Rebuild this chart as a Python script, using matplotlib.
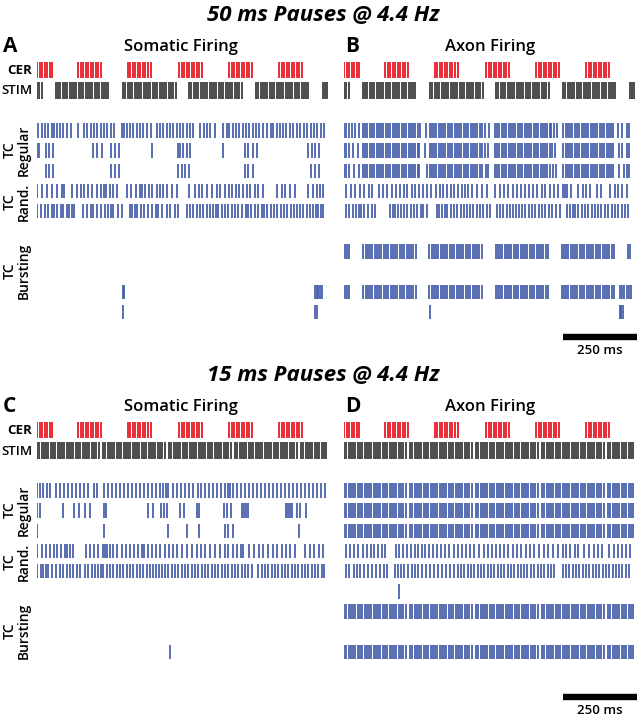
import numpy as np
import matplotlib.pyplot as plt

# spike times in ms (0 ms = left edge of each raster)
CER_ON = [0, 139, 307, 480, 649, 818]
CER_OFF = [52, 218, 390, 559, 728, 897]
CER_ISI = 8.5
STIM_ISI = 7.7

STIM_50 = [(0, 18), (64, 245), (291, 468), (514, 694), (740, 917), (966, 983)]
STIM_15 = [(0, 211), (223, 437), (446, 657), (669, 880), (892, 983)]

# ---- 50 ms pauses, somatic
A_REG1 = [4, 16, 27, 38, 50, 59, 69, 78, 89, 100, 114, 140, 159, 170, 181, 193, 204, 215,
          226, 238, 249, 260, 286, 294, 303, 314, 325, 337, 348, 359, 370, 384, 404, 416,
          427, 438, 449, 461, 474, 483, 494, 506, 517, 528, 551, 564, 575, 584, 601, 627,
          641, 650, 661, 672, 684, 695, 706, 717, 729, 740, 751, 765, 776, 789, 798, 810,
          821, 832, 843, 855, 866, 877, 889, 902, 913, 925, 936, 947, 958, 970]
A_REG2 = [1, 8, 29, 41, 55, 188, 203, 221, 250, 264, 278, 387, 475, 483, 494, 506, 517,
          629, 703, 714, 729, 742, 917, 928, 939, 954]
A_REG3 = [29, 41, 55, 250, 264, 278, 477, 489, 500, 514, 703, 714, 729, 926, 939, 954]
A_RAND1 = [1, 18, 35, 52, 69, 86, 91, 119, 134, 148, 160, 173, 187, 202, 215, 226, 233, 247,
           258, 271, 305, 316, 333, 348, 356, 365, 378, 390, 404, 416, 425, 438, 455, 472,
           515, 534, 547, 559, 573, 590, 607, 620, 635, 649, 658, 671, 684, 697, 711, 720,
           736, 748, 765, 810, 827, 838, 855, 872, 917, 931, 945, 956, 967]
A_RAND2 = [1, 12, 27, 38, 50, 57, 66, 80, 89, 100, 109, 117, 125, 157, 170, 181, 190, 204,
           215, 230, 241, 249, 258, 275, 286, 314, 322, 331, 339, 350, 361, 376, 387, 401,
           410, 421, 438, 449, 466, 477, 506, 516, 528, 539, 551, 562, 573, 584, 593, 604,
           613, 624, 635, 646, 658, 669, 680, 691, 706, 714, 722, 736, 748, 759, 767, 778,
           789, 801, 812, 823, 834, 846, 857, 868, 877, 888, 900, 911, 922, 933, 942, 950,
           958, 967]
A_BURST1 = [291, 295, 939, 945, 951, 957, 963]
A_BURST2 = [292, 939, 946]

# ---- 50 ms pauses, axon
B_REG_WIN = [(0, 18), (64, 250), (289, 471), (510, 696), (741, 916), (955, 966)]
B_REG1_X = [27, 38, 50, 256, 278, 478, 491, 700, 710, 720, 925, 938]
B_REG2_X = [30, 48, 255, 275, 477, 485, 702, 712, 928, 940]
B_REG3_X = [33, 50, 254, 280, 480, 488, 705, 715, 930, 945]
B_RAND1 = [7, 23, 37, 54, 69, 86, 93, 119, 133, 146, 161, 175, 189, 203, 214, 229, 240, 255,
           268, 279, 293, 311, 324, 336, 347, 360, 372, 386, 398, 409, 420, 431, 448, 465,
           484, 510, 527, 541, 555, 570, 583, 597, 611, 625, 640, 653, 668, 679, 696, 709,
           724, 739, 747, 755, 766, 792, 806, 818, 831, 854, 867, 899, 916, 927, 941, 955]
B_RAND2 = [7, 18, 29, 41, 50, 57, 69, 82, 93, 105, 155, 164, 173, 184, 191, 203, 214, 225,
           236, 248, 259, 268, 279, 313, 322, 331, 340, 349, 360, 372, 383, 394, 405, 417,
           426, 437, 448, 459, 471, 482, 493, 516, 527, 538, 550, 561, 572, 581, 590, 601,
           613, 624, 635, 646, 658, 669, 680, 691, 703, 716, 730, 755, 764, 773, 782, 792,
           803, 814, 825, 837, 848, 859, 870, 882, 893, 904, 916, 927, 938, 949, 961]
B_BURST1_WIN = [(3, 23), (65, 248), (288, 471), (512, 694), (735, 916), (958, 972)]
B_BURST2_WIN = [(3, 23), (65, 248), (288, 471), (512, 694), (735, 916), (932, 976)]
B_BURST3 = [291, 932, 937, 943]

# ---- 15 ms pauses, somatic
C_REG1 = [1, 10, 19, 33, 44, 64, 78, 91, 105, 118, 132, 145, 159, 172, 194, 202, 226, 240,
          253, 267, 280, 294, 307, 321, 334, 348, 361, 375, 389, 402, 416, 427, 435, 444,
          461, 474, 488, 501, 515, 528, 545, 553, 568, 581, 596, 609, 623, 636, 644, 652,
          663, 677, 690, 704, 717, 731, 744, 758, 771, 785, 798, 812, 825, 839, 852, 866,
          880, 893, 907, 920, 934, 947, 961, 974]
C_REG2 = [1, 10, 87, 125, 143, 162, 179, 226, 233, 376, 391, 418, 429, 438, 483, 498, 539,
          548, 632, 643, 654, 694, 700, 707, 714, 841, 848, 855, 862, 877, 889, 909]
C_REG3 = [1, 226, 444, 508, 547, 635, 646, 663, 886]
C_RAND1 = [1, 16, 29, 44, 57, 66, 80, 95, 102, 111, 120, 166, 179, 193, 207, 222, 230, 238,
           247, 258, 271, 286, 300, 314, 328, 342, 354, 363, 376, 387, 402, 416, 432, 447,
           461, 472, 489, 506, 523, 539, 553, 568, 584, 601, 618, 635, 646, 661, 675, 688,
           697, 717, 733, 751, 765, 782, 796, 812, 827, 841, 855, 872, 905, 922, 936, 954, 967]
C_RAND2 = [1, 12, 21, 30, 38, 50, 64, 78, 89, 100, 111, 123, 134, 145, 162, 173, 185, 196,
           207, 215, 224, 235, 247, 258, 269, 280, 292, 303, 314, 325, 337, 348, 359, 370,
           382, 393, 402, 411, 421, 432, 444, 455, 466, 477, 489, 500, 511, 523, 534, 545,
           556, 568, 579, 590, 601, 613, 624, 635, 646, 658, 669, 680, 691, 703, 714, 725,
           748, 759, 770, 782, 793, 804, 815, 827, 838, 849, 860, 872, 883, 894, 905, 917,
           928, 939, 950, 962, 970]
C_BURST = [449]

# ---- 15 ms pauses, axon
D_RAND1 = [7, 21, 35, 48, 63, 78, 91, 102, 116, 127, 139, 176, 187, 198, 213, 226, 240, 251,
           262, 274, 288, 300, 314, 328, 341, 356, 370, 384, 398, 412, 427, 440, 457, 472,
           485, 499, 514, 528, 542, 555, 570, 584, 598, 615, 629, 643, 660, 677, 688, 705,
           722, 739, 750, 765, 779, 792, 812, 829, 846, 857, 871, 896, 911, 925, 938, 953, 967]
D_RAND2 = [7, 18, 33, 44, 55, 69, 80, 93, 108, 123, 134, 145, 172, 184, 193, 204, 217, 229,
           240, 251, 262, 277, 292, 305, 319, 330, 345, 359, 373, 384, 395, 407, 418, 429,
           440, 452, 463, 474, 485, 497, 508, 519, 530, 542, 553, 564, 575, 587, 598, 609,
           620, 632, 643, 654, 666, 677, 688, 699, 711, 739, 750, 761, 773, 784, 795, 806,
           818, 829, 840, 851, 863, 874, 885, 896, 908, 919, 930, 941, 953, 964]
D_SINGLE = [187]

RED = "#e8222b"
GREY = "#2e2e2e"
BLUE = "#3b55a6"


def train(windows, isi):
    out = []
    for a, b in windows:
        out.extend(np.arange(a, b + 0.1, isi))
    return out


cer = train(list(zip(CER_ON, CER_OFF)), CER_ISI)

W, H = 637, 716
fig = plt.figure(figsize=(W / 100, H / 100), dpi=100)
plt.rcParams['font.family'] = ['Open Sans', 'DejaVu Sans']


def panel(left, top, rows):
    ax = fig.add_axes([left / W, 1 - (top + 266) / H, 293 / W, 266 / H])
    ax.set_xlim(0, 990)
    ax.set_ylim(12.6, -0.6)
    ax.axis('off')
    for r, (times, col, h, lw) in rows.items():
        ax.vlines(times, r - h / 2, r + h / 2, color=col, lw=lw)
    return ax


def somatic_rows(stim, reg1, reg2, reg3, rand1, rand2, extra):
    rows = {0: (cer, RED, 0.8, 1.35), 1: (train(stim, STIM_ISI), GREY, 0.85, 1.2),
            3: (reg1, BLUE, 0.72, 1.2), 4: (reg2, BLUE, 0.72, 1.2), 5: (reg3, BLUE, 0.72, 1.2),
            6: (rand1, BLUE, 0.72, 1.2), 7: (rand2, BLUE, 0.72, 1.2)}
    for r, t in extra.items():
        rows[r] = (t, BLUE, 0.72, 1.2)
    return rows


rows_a = somatic_rows(STIM_50, A_REG1, A_REG2, A_REG3, A_RAND1, A_RAND2,
                      {11: A_BURST1, 12: A_BURST2})
rows_b = somatic_rows(STIM_50, train(B_REG_WIN, STIM_ISI) + B_REG1_X,
                      train(B_REG_WIN, STIM_ISI) + B_REG2_X,
                      train(B_REG_WIN, STIM_ISI) + B_REG3_X, B_RAND1, B_RAND2,
                      {9: train(B_BURST1_WIN, STIM_ISI), 11: train(B_BURST2_WIN, STIM_ISI),
                       12: B_BURST3})
rows_c = somatic_rows(STIM_15, C_REG1, C_REG2, C_REG3, C_RAND1, C_RAND2, {11: C_BURST})
d_dense = train(STIM_15, STIM_ISI)
rows_d = somatic_rows(STIM_15, d_dense, d_dense, d_dense, D_RAND1, D_RAND2,
                      {8: D_SINGLE, 9: d_dense, 11: d_dense})

panel(37, 58, rows_a)
ax_b = panel(344, 58, rows_b)
panel(37, 418, rows_c)
ax_d = panel(344, 418, rows_d)

for ax in (ax_b, ax_d):
    ax.hlines(13.25, 740, 990, color='black', lw=4.6, clip_on=False)


def ftext(x, y, s, **kw):
    fig.text(x / W, 1 - y / H, s, **kw)


for y0, title in ((0, "50 ms Pauses @ 4.4 Hz"), (360, "15 ms Pauses @ 4.4 Hz")):
    ftext(323, 15 + y0, title, ha='center', va='center', fontsize=16,
          fontweight='bold', style='italic')
    ftext(181, 47 + y0, "Somatic Firing", ha='center', va='center', fontsize=12,
          fontweight='semibold')
    ftext(490, 47 + y0, "Axon Firing", ha='center', va='center', fontsize=12,
          fontweight='semibold')
    ftext(32, 70 + y0, "CER", ha='right', va='center', fontsize=9.5, fontweight='bold')
    ftext(32, 91 + y0, "STIM", ha='right', va='center', fontsize=9.5, fontweight='semibold')
    ftext(17, 150 + y0, "TC\nRegular", ha='center', va='center', rotation=90,
          fontsize=10, fontweight='semibold', linespacing=1.0)
    ftext(17, 202 + y0, "TC\nRand.", ha='center', va='center', rotation=90,
          fontsize=10, fontweight='semibold', linespacing=1.0)
    ftext(17, 271 + y0, "TC\nBursting", ha='center', va='center', rotation=90,
          fontsize=10, fontweight='semibold', linespacing=1.0)
    ftext(600, 350 + y0, "250 ms", ha='center', va='center', fontsize=9.5,
          fontweight='semibold')

ftext(3, 46, "A", ha='left', va='center', fontsize=15, fontweight='bold')
ftext(345, 46, "B", ha='left', va='center', fontsize=15, fontweight='bold')
ftext(3, 406, "C", ha='left', va='center', fontsize=15, fontweight='bold')
ftext(345, 406, "D", ha='left', va='center', fontsize=15, fontweight='bold')

fig.savefig("out.png", dpi=100)
